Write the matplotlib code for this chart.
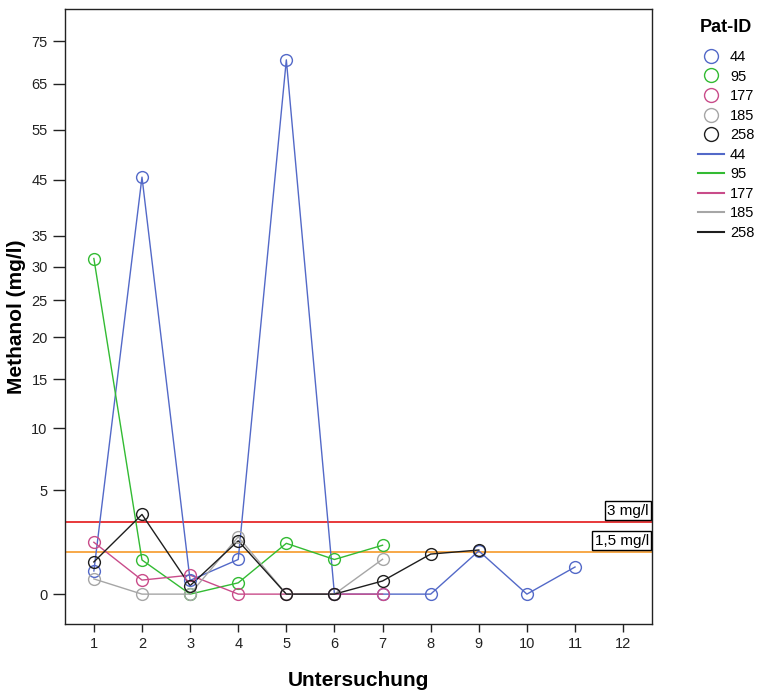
import numpy as np
import matplotlib
matplotlib.use("Agg")
import matplotlib.pyplot as plt
from matplotlib.lines import Line2D

plt.rcParams['font.family'] = ['Liberation Sans', 'DejaVu Sans']

# Methanol measurements (mg/l) per examination for each patient
visits_44 = [1, 2, 3, 4, 5, 6, 7, 8, 9, 10, 11]
methanol_44 = [0.75, 45.5, 0.42, 1.2, 70.5, 0, 0, 0, 1.57, 0, 0.9]

visits_95 = [1, 2, 3, 4, 5, 6, 7]
methanol_95 = [31.3, 1.18, 0, 0.34, 1.92, 1.2, 1.83]

visits_177 = [1, 2, 3, 4, 5, 6, 7]
methanol_177 = [1.97, 0.43, 0.6, 0, 0, 0, 0]

visits_185 = [1, 2, 3, 4, 5, 6, 7]
methanol_185 = [0.47, 0, 0, 2.24, 0, 0, 1.21]

visits_258 = [1, 2, 3, 4, 5, 6, 7, 8, 9]
methanol_258 = [1.1, 3.46, 0.25, 2.04, 0, 0, 0.4, 1.43, 1.61]

patient_ids = ["44", "95", "177", "185", "258"]
colors = ["#5369c8", "#33bb33", "#c94c8a", "#a6a6a6", "#1e1e1e"]

thresholds = [3.0, 1.5]
threshold_labels = ["3 mg/l", "1,5 mg/l"]
threshold_colors = ["#e8383a", "#f7a848"]

y_ticks = [0, 5, 10, 15, 20, 25, 30, 35, 45, 55, 65, 75]
x_ticks = list(range(1, 13))

series = [
    (visits_44, methanol_44),
    (visits_95, methanol_95),
    (visits_177, methanol_177),
    (visits_185, methanol_185),
    (visits_258, methanol_258),
]


def fwd(v):
    return np.sqrt(np.clip(np.asarray(v, dtype=float) + 1.0, 0, None))


def inv(v):
    return np.asarray(v, dtype=float) ** 2 - 1.0


fig = plt.figure(figsize=(7.59, 6.98), dpi=100)
ax = fig.add_axes([65 / 759, 1 - 624 / 698, (652 - 65) / 759, (624 - 9) / 698])
ax.set_yscale('function', functions=(fwd, inv))

for (xs, ys), c in zip(series, colors):
    ax.plot(xs, ys, color=c, lw=1.0, zorder=3)
    ax.plot(xs, ys, ls='none', marker='o', ms=8.5, mfc='none', mec=c, mew=1.0, zorder=4)

for val, lab, c in zip(thresholds, threshold_labels, threshold_colors):
    ax.axhline(val, color=c, lw=1.4, zorder=2)
    ax.annotate(lab, xy=(12.53, val), xytext=(0, 3.5), textcoords='offset points',
                ha='right', va='bottom', fontsize=11, zorder=5,
                bbox=dict(boxstyle='square,pad=0.15', fc='white', ec='black', lw=1.0))

ax.set_xlim(0.4, 12.6)
ax.set_ylim(-0.66, 83.0)
ax.set_xticks(x_ticks)
ax.set_xticklabels([str(t) for t in x_ticks])
ax.set_yticks(y_ticks)
ax.set_yticklabels([str(t) for t in y_ticks])
ax.minorticks_off()
ax.tick_params(axis='both', direction='out', length=6, width=1, labelsize=10.5, colors='#222222')
ax.tick_params(axis='y', length=9)
for sp in ax.spines.values():
    sp.set_linewidth(1.0)
    sp.set_color('#222222')

ax.set_xlabel("Untersuchung", fontsize=15, fontweight='bold', labelpad=14)
ax.set_ylabel("Methanol (mg/l)", fontsize=15, fontweight='bold', labelpad=4)

fig.text(726 / 759, 1 - 28 / 698, "Pat-ID", ha='center', va='center',
         fontsize=13, fontweight='bold')

handles = [Line2D([], [], ls='none', marker='o', ms=10, mfc='none', mec=c, mew=1.0) for c in colors]
handles += [Line2D([], [], color=c, lw=1.5) for c in colors]
labels = patient_ids + patient_ids
leg = fig.legend(handles, labels, loc='upper left', bbox_to_anchor=(698 / 759, 1 - 50 / 698),
                 frameon=False, fontsize=10.5, handlelength=1.8, handletextpad=0.4,
                 labelspacing=0.38, borderaxespad=0, borderpad=0)

fig.savefig("out.png", dpi=100, facecolor='white')
